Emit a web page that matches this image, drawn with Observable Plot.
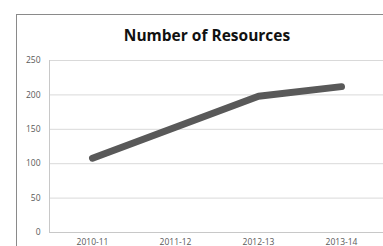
<!DOCTYPE html>
<html>
<head>
<meta charset="utf-8">
<script src="https://cdn.jsdelivr.net/npm/d3@7"></script>
<script src="https://cdn.jsdelivr.net/npm/@observablehq/plot@0.6"></script>
<style>
  html, body { margin: 0; padding: 0; background: #fff; overflow: hidden; }
  #wrap { position: relative; width: 383px; height: 246px; overflow: hidden; }
  #frame { position: absolute; left: 16px; top: 14px; width: 420px; height: 300px; border: 1px solid #8a8a8a; box-sizing: border-box; }
  #title { position: absolute; left: 16px; width: 382px; top: 24px; text-align: center; font-family: "Open Sans", sans-serif; font-weight: 700; font-size: 15.5px; color: #111; line-height: 22px; }
  #chart { position: absolute; left: 0; top: 0; }
</style>
</head>
<body>
<div id="wrap">
  <div id="frame"></div>
  <div id="title">Number of Resources</div>
  <div id="chart"></div>
</div>
<script>
const categories = ["2010-11", "2011-12", "2012-13", "2013-14"];
const resources = [108, 153, 198, 212];
const yTicks = [0, 50, 100, 150, 200, 250];

const data = categories.map((c, i) => ({ year: c, value: resources[i] }));

const plot = Plot.plot({
  width: 383,
  height: 246,
  marginLeft: 49,
  marginRight: 0,
  marginTop: 60,
  marginBottom: 14,
  style: { background: "transparent", fontFamily: "'Open Sans', sans-serif", fontSize: "8.5px", color: "#595959" },
  x: { type: "point", domain: categories, padding: 0.5, label: null },
  y: { domain: [0, 250], label: null },
  marks: [
    Plot.gridY(yTicks, { stroke: "#d9d9d9", strokeOpacity: 1 }),
    Plot.frame({ anchor: "left", stroke: "#c8c8c8" }),
    Plot.ruleY([0], { stroke: "#c8c8c8" }),
    Plot.axisY(yTicks, { tickSize: 0, tickPadding: 9, fill: "#595959" }),
    Plot.axisX({ tickSize: 0, tickPadding: 6.5, fill: "#595959" }),
    Plot.line(data, { x: "year", y: "value", stroke: "#595959", strokeWidth: 7, strokeLinecap: "round", strokeLinejoin: "round" })
  ]
});
document.getElementById("chart").appendChild(plot);
</script>
</body>
</html>
